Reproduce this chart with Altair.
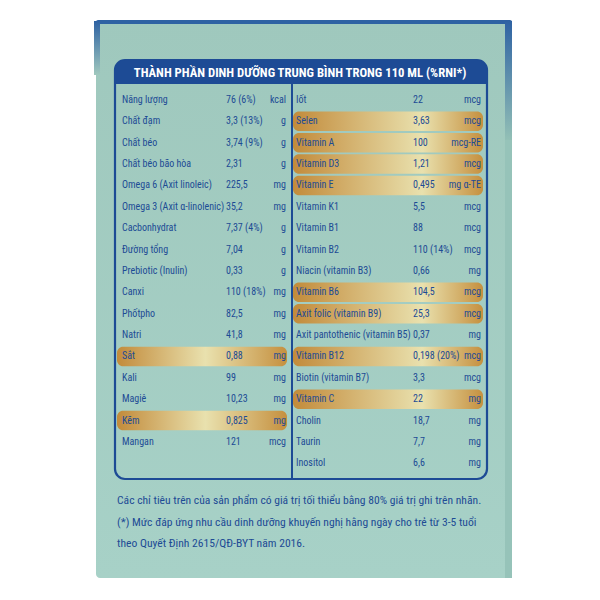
import altair as alt
import pandas as pd

# ---------------- data ----------------
title_text = "THÀNH PHẦN DINH DƯỠNG TRUNG BÌNH TRONG 110 ML (%RNI*)"

left_names = ["Năng lượng", "Chất đạm", "Chất béo", "Chất béo bão hòa",
              "Omega 6 (Axit linoleic)", "Omega 3 (Axit α-linolenic)",
              "Cacbonhydrat", "Đường tổng", "Prebiotic (Inulin)", "Canxi",
              "Phốtpho", "Natri", "Sắt", "Kali", "Magiê", "Kẽm", "Mangan"]
left_values = ["76 (6%)", "3,3 (13%)", "3,74 (9%)", "2,31", "225,5", "35,2",
               "7,37 (4%)", "7,04", "0,33", "110 (18%)", "82,5", "41,8",
               "0,88", "99", "10,23", "0,825", "121"]
left_units = ["kcal", "g", "g", "g", "mg", "mg", "g", "g", "g", "mg", "mg",
              "mg", "mg", "mg", "mg", "mg", "mcg"]
left_highlight = ["Sắt", "Kẽm"]

right_names = ["Iốt", "Selen", "Vitamin A", "Vitamin D3", "Vitamin E",
               "Vitamin K1", "Vitamin B1", "Vitamin B2", "Niacin (vitamin B3)",
               "Vitamin B6", "Axit folic (vitamin B9)",
               "Axit pantothenic (vitamin B5)", "Vitamin B12",
               "Biotin (vitamin B7)", "Vitamin C", "Cholin", "Taurin", "Inositol"]
right_values = ["22", "3,63", "100", "1,21", "0,495", "5,5", "88", "110 (14%)",
                "0,66", "104,5", "25,3", "0,37", "0,198 (20%)", "3,3", "22",
                "18,7", "7,7", "6,6"]
right_units = ["mcg", "mcg", "mcg-RE", "mcg", "mg α-TE", "mcg", "mcg", "mcg",
               "mg", "mcg", "mcg", "mg", "mcg", "mcg", "mg", "mg", "mg", "mg"]
right_highlight = ["Selen", "Vitamin A", "Vitamin D3", "Vitamin E",
                   "Vitamin B6", "Axit folic (vitamin B9)", "Vitamin B12",
                   "Vitamin C"]

footer_lines = [
    "Các chỉ tiêu trên của sản phẩm có giá trị tối thiểu bằng 80% giá trị ghi trên nhãn.",
    "(*) Mức đáp ứng nhu cầu dinh dưỡng khuyến nghị hằng ngày cho trẻ từ 3-5 tuổi",
    "theo Quyết Định 2615/QĐ-BYT năm 2016.",
]

# ---------------- layout ----------------
NAVY = "#1d4b95"
FONT = "Roboto Condensed"
ROW0, STEP, BAR_H = 100.0, 21.37, 19.5

def table(names, values, units, hl, xl, xv, xu, bx1, bx2):
    rows = []
    for i, (n, v, u) in enumerate(zip(names, values, units)):
        y = ROW0 + i * STEP
        rows.append(dict(name=n, value=v, unit=u, y=y, xl=xl, xv=xv, xu=xu,
                         bx1=bx1, bx2=bx2, by1=y - BAR_H / 2, by2=y + BAR_H / 2,
                         hl=n in hl))
    return pd.DataFrame(rows)

left_df = table(left_names, left_values, left_units, left_highlight,
                122, 226, 286, 117, 287)
right_df = table(right_names, right_values, right_units, right_highlight,
                 296, 413, 481, 293, 483)
all_df = pd.concat([left_df, right_df], ignore_index=True)

XS = alt.Scale(domain=[8, 592], nice=False, zero=False)
YS = alt.Scale(domain=[592, 8], nice=False, zero=False)

def X(f):
    return alt.X(f, type="quantitative", scale=XS, axis=None)

def Y(f):
    return alt.Y(f, type="quantitative", scale=YS, axis=None)

def box(x1, x2, y1, y2):
    return pd.DataFrame([dict(x1=x1, x2=x2, y1=y1, y2=y2)])

def rect_layer(df, **mark):
    return alt.Chart(df).mark_rect(**mark).encode(
        x=X("x1"), x2="x2", y=Y("y1"), y2="y2")

def vgrad(c1, c2):
    return {"gradient": "linear", "x1": 0, "x2": 0, "y1": 0, "y2": 1,
            "stops": [{"offset": 0, "color": c1}, {"offset": 1, "color": c2}]}

# carton
carton = rect_layer(box(96, 512, 20, 578), cornerRadius=4,
                    fill=vgrad("#9fc8bd", "#a7d1c7"))
top_edge = rect_layer(box(96, 512, 20, 24), cornerRadius=3, fill="#2e62a3")
left_edge = rect_layer(box(94, 100, 21, 75), fill=vgrad("#2e62a3", "#a0c8be"))
right_edge = rect_layer(box(505, 512, 21, 140), fill=vgrad("#2e62a3", "#93c0b6"))
right_strip = rect_layer(box(505, 512, 140, 578), fill="#96c3b9")

# table frame + header
frame = rect_layer(box(115, 487, 60, 479), cornerRadius=10, filled=False,
                   stroke=NAVY, strokeWidth=2.2)
header = rect_layer(box(115, 487, 60, 84), cornerRadiusTopLeft=10,
                    cornerRadiusTopRight=10, fill=NAVY)
divider = rect_layer(box(291, 293, 84, 479), fill=NAVY)

# gold highlight bars
def gold(peak):
    return {"gradient": "linear", "x1": 0, "x2": 1, "y1": 0, "y2": 0,
            "stops": [{"offset": 0, "color": "#c28b3b"},
                      {"offset": peak, "color": "#e9e1ae"},
                      {"offset": 1, "color": "#c5903f"}]}

def bars(df, peak):
    d = df[df.hl]
    return alt.Chart(d).mark_rect(cornerRadius=6, fill=gold(peak)).encode(
        x=X("bx1"), x2="bx2", y=Y("by1"), y2="by2")

left_bars = bars(left_df, 0.52)
right_bars = bars(right_df, 0.68)

text_base = dict(font=FONT, fontSize=10, color=NAVY, baseline="middle")
labels = alt.Chart(all_df).mark_text(align="left", **text_base).encode(
    x=X("xl"), y=Y("y"), text="name:N")
values = alt.Chart(all_df).mark_text(align="left", **text_base).encode(
    x=X("xv"), y=Y("y"), text="value:N")
units = alt.Chart(all_df).mark_text(align="right", **text_base).encode(
    x=X("xu"), y=Y("y"), text="unit:N")

title_df = pd.DataFrame([dict(x=300, y=72.5, t=title_text)])
title = alt.Chart(title_df).mark_text(
    font=FONT, fontSize=12.7, fontWeight="bold", color="white",
    align="center", baseline="middle").encode(x=X("x"), y=Y("y"), text="t:N")

foot_df = pd.DataFrame([dict(x=117, y=501 + 21.5 * i, t=t)
                        for i, t in enumerate(footer_lines)])
footer = alt.Chart(foot_df).mark_text(
    font=FONT, fontSize=11.6, color=NAVY, align="left",
    baseline="middle").encode(x=X("x"), y=Y("y"), text="t:N")

chart = alt.layer(
    carton, top_edge, left_edge, right_edge, right_strip,
    left_bars, right_bars, frame, header, divider,
    labels, values, units, title, footer,
).properties(
    width=584, height=584, padding=0,
    autosize=alt.AutoSizeParams(type="none"),
    background="white",
).configure_view(strokeWidth=0)

chart.save("out.html", embed_options={"renderer": "svg", "actions": False})
